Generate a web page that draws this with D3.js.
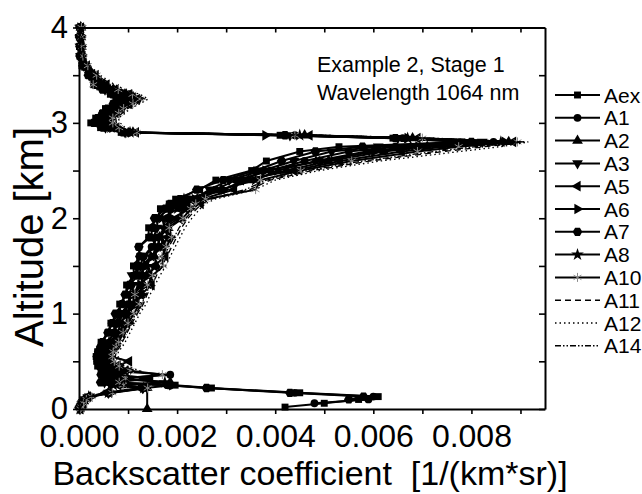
<!DOCTYPE html>
<html>
<head>
<meta charset="utf-8">
<script src="https://cdn.jsdelivr.net/npm/d3@7"></script>
<style>
  body { margin: 0; background: #fff; }
  svg { display: block; font-family: Arial, "Liberation Sans", sans-serif; }
</style>
</head>
<body>
<svg id="chart" width="642" height="494"></svg>
<script>
// altitude grid [km], shared by every profile
const altitude = [0, 0.02, 0.06, 0.1, 0.13, 0.17, 0.22, 0.25, 0.28, 0.32, 0.36, 0.4, 0.45, 0.5, 0.55, 0.6, 0.65, 0.7, 0.8, 0.9,
  1.0, 1.1, 1.2, 1.3, 1.4, 1.5, 1.6, 1.7, 1.8, 1.9, 2.0, 2.1, 2.15, 2.2, 2.3, 2.4, 2.5, 2.6, 2.7, 2.75,
  2.8, 2.84, 2.87, 2.9, 2.95, 3.0, 3.05, 3.1, 3.15, 3.2, 3.25, 3.3, 3.35, 3.4, 3.5, 3.6, 3.7, 3.8, 3.9, 4.0];

// backscatter coefficient [1/(km*sr)] per algorithm
const aex = [null, 42e-4, 50e-4, 57e-4, 61e-4, 45e-4, 27e-4, 19.6e-4, 4.6e-4, 5.0e-4, 4.8e-4, 4.5e-4, 3.8e-4, 3.6e-4, 3.5e-4, 3.8e-4, 4.6e-4, 4.5e-4, 5.9e-4, 6.5e-4,
  8.4e-4, 8.3e-4, 9.6e-4, 9.7e-4, 11.2e-4, 11.1e-4, 12.4e-4, 12.2e-4, 14.2e-4, 14.2e-4, 16.0e-4, 16.6e-4, 18.4e-4, 19.7e-4, 24.6e-4, 27.9e-4, 35.2e-4, 38.2e-4, 45.0e-4, 53.0e-4,
  78.0e-4, 64e-4, 41e-4, 8.6e-4, 4.4e-4, 2.4e-4, 3.4e-4, 4.8e-4, 5.4e-4, 7.0e-4, 7.5e-4, 6.4e-4, 4.9e-4, 3.0e-4, 1.9e-4, 0.6e-4, 0.2e-4, 0.1e-4, 0.1e-4, 0.2e-4];
const a1 = [null, null, 48e-4, 59e-4, 60e-4, 44e-4, 26e-4, 18e-4, 6.0e-4, 7.5e-4, 18.6e-4, 6.5e-4, 5.7e-4, 5.2e-4, 4.8e-4, 5.1e-4, 5.6e-4, 7.4e-4, 7.0e-4, 8.0e-4,
  8.6e-4, 10.0e-4, 10.8e-4, 13.0e-4, 12.6e-4, 13.4e-4, 13.2e-4, 14.8e-4, 16.0e-4, 18.0e-4, 18.0e-4, 18.6e-4, 20.4e-4, 22.4e-4, 27.8e-4, 32.0e-4, 39.0e-4, 46.0e-4, 55.0e-4, 64.5e-4,
  84.5e-4, 66e-4, 44e-4, 10.2e-4, 6.2e-4, 4.5e-4, 5.0e-4, 6.1e-4, 7.1e-4, 8.4e-4, 9.7e-4, 8.3e-4, 6.0e-4, 4.3e-4, 2.5e-4, 1.1e-4, 0.4e-4, 0.3e-4, 0.3e-4, 0.3e-4];
const a2 = [13.9e-4, null, null, null, null, null, 13.9e-4, 9.0e-4, 18.6e-4, 8.6e-4, 7.2e-4, 8.8e-4, 6.8e-4, 6.0e-4, 5.6e-4, 5.9e-4, 6.6e-4, 7.0e-4, 8.2e-4, 8.2e-4,
  10.3e-4, 11.2e-4, 11.0e-4, 12.9e-4, 13.8e-4, 15.8e-4, 15.4e-4, 16.2e-4, 16.4e-4, 18.2e-4, 20.8e-4, 21.0e-4, 22.0e-4, 24.1e-4, 29.0e-4, 34.6e-4, 42.3e-4, 50.9e-4, 62.2e-4, 71.0e-4,
  87.6e-4, 68e-4, 46e-4, 11.0e-4, 7.1e-4, 5.6e-4, 5.9e-4, 7.1e-4, 8.1e-4, 9.7e-4, 11.1e-4, 9.6e-4, 7.0e-4, 5.1e-4, 3.1e-4, 1.4e-4, 0.6e-4, 0.5e-4, 0.4e-4, 0.4e-4];
const a3 = [0.2e-4, 0.4e-4, 0.7e-4, 1.2e-4, 2.2e-4, 6.0e-4, 13.0e-4, 6.5e-4, 5.2e-4, 6.2e-4, 5.6e-4, 5.5e-4, 4.6e-4, 4.3e-4, 4.0e-4, 4.5e-4, 4.9e-4, 5.4e-4, 7.6e-4, 7.2e-4,
  8.6e-4, 10.6e-4, 10.2e-4, 10.9e-4, 10.8e-4, 12.5e-4, 13.1e-4, 15.6e-4, 15.2e-4, 15.9e-4, 16.0e-4, 18.4e-4, 19.4e-4, 23.4e-4, 26.6e-4, 30.6e-4, 37.4e-4, 43.8e-4, 51.5e-4, 61.0e-4,
  82.2e-4, 65e-4, 43e-4, 9.4e-4, 5.4e-4, 3.8e-4, 4.4e-4, 5.3e-4, 6.3e-4, 7.6e-4, 8.8e-4, 7.5e-4, 5.3e-4, 3.7e-4, 2.1e-4, 0.9e-4, 0.3e-4, 0.2e-4, 0.2e-4, 0.2e-4];
const a5 = [0.2e-4, 0.3e-4, 0.6e-4, 1.0e-4, 1.8e-4, 5.5e-4, 12.5e-4, 8.0e-4, 7.8e-4, 14.5e-4, 8.0e-4, 9.5e-4, 7.6e-4, 10.2e-4, 6.2e-4, 6.4e-4, 7.1e-4, 7.8e-4, 8.6e-4, 9.8e-4,
  9.6e-4, 11.8e-4, 12.6e-4, 14.8e-4, 14.4e-4, 15.3e-4, 17.6e-4, 17.0e-4, 18.1e-4, 17.4e-4, 20.3e-4, 21.8e-4, 24.8e-4, 24.9e-4, 31.6e-4, 33.0e-4, 43.8e-4, 53.2e-4, 65.8e-4, 74.3e-4,
  88.5e-4, 69e-4, 47e-4, 11.6e-4, 7.6e-4, 6.2e-4, 6.4e-4, 7.6e-4, 8.7e-4, 10.3e-4, 11.8e-4, 10.2e-4, 7.5e-4, 5.6e-4, 3.4e-4, 1.6e-4, 0.7e-4, 0.5e-4, 0.4e-4, 0.4e-4];
const a6 = [0.3e-4, 0.5e-4, 0.8e-4, 1.4e-4, 2.5e-4, 6.5e-4, 13.5e-4, 19.0e-4, 6.6e-4, 8.0e-4, 6.8e-4, 7.6e-4, 6.2e-4, 5.6e-4, 5.2e-4, 5.4e-4, 6.3e-4, 6.6e-4, 7.6e-4, 10.2e-4,
  9.9e-4, 10.6e-4, 12.8e-4, 12.5e-4, 13.3e-4, 12.6e-4, 15.0e-4, 15.8e-4, 18.6e-4, 17.8e-4, 19.0e-4, 22.6e-4, 21.5e-4, 23.6e-4, 29.5e-4, 33.6e-4, 38.0e-4, 49.5e-4, 60.2e-4, 69.2e-4,
  86.8e-4, 67e-4, 38e-4, 10.6e-4, 6.8e-4, 5.2e-4, 5.6e-4, 6.7e-4, 7.7e-4, 9.2e-4, 10.6e-4, 9.0e-4, 6.6e-4, 4.8e-4, 2.8e-4, 1.3e-4, 0.5e-4, 0.4e-4, 0.3e-4, 0.3e-4];
const a7 = [null, null, null, 55e-4, 58e-4, 43e-4, 26e-4, 18.5e-4, 4.4e-4, 5.3e-4, 4.5e-4, 5.0e-4, 4.2e-4, 3.9e-4, 3.7e-4, 4.0e-4, 4.4e-4, 4.8e-4, 5.9e-4, 6.8e-4,
  7.4e-4, 8.8e-4, 9.4e-4, 10.3e-4, 12.0e-4, 11.8e-4, 12.4e-4, 12.2e-4, 14.5e-4, 15.1e-4, 15.4e-4, 17.6e-4, 18.6e-4, 20.6e-4, 24.0e-4, 29.4e-4, 36.0e-4, 41.3e-4, 48.2e-4, 57.8e-4,
  80.0e-4, 64.5e-4, 42e-4, 9.0e-4, 4.9e-4, 3.0e-4, 3.8e-4, 4.8e-4, 5.8e-4, 7.0e-4, 8.0e-4, 6.9e-4, 4.8e-4, 3.3e-4, 1.9e-4, 0.8e-4, 0.2e-4, 0.2e-4, 0.1e-4, 0.2e-4];
const a8 = [0.2e-4, 0.4e-4, 0.7e-4, 1.2e-4, 2.0e-4, 6.0e-4, 13.2e-4, 7.0e-4, 17.5e-4, 7.2e-4, 6.3e-4, 7.0e-4, 5.9e-4, 5.4e-4, 5.0e-4, 5.5e-4, 6.1e-4, 6.5e-4, 8.8e-4, 8.5e-4,
  9.7e-4, 12.0e-4, 11.2e-4, 12.2e-4, 14.4e-4, 13.9e-4, 14.6e-4, 17.2e-4, 16.7e-4, 17.4e-4, 17.0e-4, 20.1e-4, 21.0e-4, 21.4e-4, 29.0e-4, 36.0e-4, 40.6e-4, 48.3e-4, 58.6e-4, 67.6e-4,
  86.0e-4, 67e-4, 45e-4, 10.4e-4, 6.5e-4, 4.9e-4, 5.3e-4, 6.4e-4, 7.4e-4, 8.8e-4, 10.2e-4, 8.7e-4, 6.3e-4, 4.6e-4, 2.7e-4, 1.2e-4, 0.5e-4, 0.4e-4, 0.3e-4, 0.3e-4];
const a10 = [0.3e-4, 0.5e-4, 0.9e-4, 1.5e-4, 2.6e-4, 6.8e-4, 14.0e-4, 9.0e-4, 8.2e-4, 9.5e-4, 17.0e-4, 10.5e-4, 8.2e-4, 7.2e-4, 6.8e-4, 7.0e-4, 7.6e-4, 8.1e-4, 9.0e-4, 10.0e-4,
  11.2e-4, 12.3e-4, 11.4e-4, 14.0e-4, 15.0e-4, 17.2e-4, 16.9e-4, 17.8e-4, 18.9e-4, 18.4e-4, 21.2e-4, 22.8e-4, 23.8e-4, 25.8e-4, 36.0e-4, 37.0e-4, 45.2e-4, 55.6e-4, 69.0e-4, 77.4e-4,
  89.4e-4, 70e-4, 44e-4, 11.8e-4, 8.2e-4, 6.9e-4, 6.9e-4, 8.1e-4, 9.1e-4, 11.0e-4, 12.5e-4, 10.9e-4, 8.0e-4, 2.9e-4, 3.6e-4, 1.8e-4, 0.8e-4, 0.6e-4, 0.5e-4, 0.5e-4];
const a11 = [0.2e-4, 0.3e-4, 0.6e-4, 1.1e-4, 2.0e-4, 5.8e-4, 12.8e-4, 8.5e-4, 8.8e-4, 10.5e-4, 8.6e-4, 11.5e-4, 9.2e-4, 8.0e-4, 7.4e-4, 7.6e-4, 8.3e-4, 8.8e-4, 9.8e-4, 10.8e-4,
  11.9e-4, 13.1e-4, 13.9e-4, 14.9e-4, 15.8e-4, 17.0e-4, 17.9e-4, 18.9e-4, 19.9e-4, 20.9e-4, 22.2e-4, 24.0e-4, 25.0e-4, 27.0e-4, 34.8e-4, 39.0e-4, 47.6e-4, 59.2e-4, 74.4e-4, 82.8e-4,
  90.8e-4, 71e-4, 49e-4, 12.1e-4, 8.8e-4, 7.6e-4, 7.5e-4, 8.8e-4, 9.9e-4, 11.8e-4, 13.4e-4, 11.7e-4, 8.7e-4, 6.6e-4, 3.9e-4, 2.0e-4, 0.9e-4, 0.7e-4, 0.5e-4, 0.5e-4];
const a12 = [0.3e-4, 0.4e-4, 0.7e-4, 1.3e-4, 2.3e-4, 6.2e-4, 13.4e-4, 9.5e-4, 9.2e-4, 11.0e-4, 9.0e-4, 12.4e-4, 9.8e-4, 8.4e-4, 8.0e-4, 8.0e-4, 8.8e-4, 9.4e-4, 10.4e-4, 11.4e-4,
  12.4e-4, 13.7e-4, 14.5e-4, 15.5e-4, 16.5e-4, 17.7e-4, 18.6e-4, 19.6e-4, 20.6e-4, 21.6e-4, 23.0e-4, 24.7e-4, 25.7e-4, 27.7e-4, 35.9e-4, 40.0e-4, 49.0e-4, 61.4e-4, 77.7e-4, 85.9e-4,
  91.6e-4, 72e-4, 50e-4, 12.4e-4, 9.4e-4, 8.4e-4, 8.0e-4, 9.4e-4, 10.4e-4, 12.4e-4, 14.1e-4, 12.4e-4, 9.4e-4, 7.3e-4, 4.3e-4, 2.2e-4, 1.0e-4, 0.8e-4, 0.6e-4, 0.6e-4];
const a14 = [0.2e-4, 0.4e-4, 0.8e-4, 1.2e-4, 2.1e-4, 6.0e-4, 13.0e-4, 8.0e-4, 7.5e-4, 13.0e-4, 8.2e-4, 10.0e-4, 8.6e-4, 9.8e-4, 7.2e-4, 7.3e-4, 8.0e-4, 8.6e-4, 9.5e-4, 10.5e-4,
  11.6e-4, 12.8e-4, 13.6e-4, 14.5e-4, 15.4e-4, 16.5e-4, 17.4e-4, 18.3e-4, 19.4e-4, 20.4e-4, 21.8e-4, 23.4e-4, 24.4e-4, 26.4e-4, 33.9e-4, 38.2e-4, 46.6e-4, 57.8e-4, 72.6e-4, 80.8e-4,
  90.2e-4, 70.5e-4, 48.5e-4, 12.0e-4, 8.5e-4, 7.2e-4, 7.2e-4, 8.4e-4, 9.5e-4, 11.3e-4, 13.0e-4, 11.2e-4, 8.3e-4, 6.3e-4, 3.8e-4, 1.9e-4, 0.9e-4, 0.7e-4, 0.5e-4, 0.5e-4];

const seriesNames = ["Aex", "A1", "A2", "A3", "A5", "A6", "A7", "A8", "A10", "A11", "A12", "A14"];
const seriesValues = [aex, a1, a2, a3, a5, a6, a7, a8, a10, a11, a12, a14];

const xTickValues = [0, 0.001, 0.002, 0.003, 0.004, 0.005, 0.006, 0.007, 0.008, 0.009];
const xTickLabels = ["0.000", "", "0.002", "", "0.004", "", "0.006", "", "0.008", ""];
const yTickValues = [0, 0.5, 1, 1.5, 2, 2.5, 3, 3.5, 4];
const yTickLabels = ["0", "", "1", "", "2", "", "3", "", "4"];

const annotation = ["Example 2, Stage 1", "Wavelength 1064 nm"];

// --- drawing ---
const marginLeft = 79, marginRight = 97, marginTop = 27.5, marginBottom = 85;
const width = 642, height = 494;

const svg = d3.select("#chart");

const x = d3.scaleLinear().domain([0, 0.0095]).range([marginLeft, width - marginRight]);
const y = d3.scaleLinear().domain([0, 4]).range([height - marginBottom, marginTop]);

// marker shapes, one per series (Origin style)
function hexagon(r) {
  const p = d3.path();
  for (let i = 0; i < 6; i++) {
    const a = Math.PI / 3 * i;
    if (i === 0) p.moveTo(r * Math.cos(a), r * Math.sin(a));
    else p.lineTo(r * Math.cos(a), r * Math.sin(a));
  }
  p.closePath();
  return p.toString();
}
const asterisk = "M0,-4.5V4.5M-3.9,-2.25L3.9,2.25M-3.9,2.25L3.9,-2.25";

const markers = {
  Aex: { d: d3.symbol(d3.symbolSquare, 48)(), rot: 0 },
  A1: { d: d3.symbol(d3.symbolCircle, 48)(), rot: 0 },
  A2: { d: d3.symbol(d3.symbolTriangle, 50)(), rot: 0 },
  A3: { d: d3.symbol(d3.symbolTriangle, 50)(), rot: 180 },
  A5: { d: d3.symbol(d3.symbolTriangle, 50)(), rot: -90 },
  A6: { d: d3.symbol(d3.symbolTriangle, 50)(), rot: 90 },
  A7: { d: hexagon(4.8), rot: 0 },
  A8: { d: d3.symbol(d3.symbolStar, 50)(), rot: 0 },
  A10: { d: asterisk, rot: 0, stroke: "#8a8a8a" }
};
const dashes = { A11: "6,4", A12: "1.5,3", A14: "6,2,1.5,2,1.5,2" };

const line = d3.line().x(d => x(d[0])).y(d => y(d[1]));

const plot = svg.append("g");
seriesNames.forEach((name, i) => {
  const pts = altitude.map((a, j) => [seriesValues[i][j], a]).filter(d => d[0] != null);
  plot.append("path")
    .datum(pts)
    .attr("fill", "none")
    .attr("stroke", "#000")
    .attr("stroke-width", dashes[name] ? 1.3 : 2)
    .attr("stroke-dasharray", dashes[name] || null)
    .attr("d", line);
  const m = markers[name];
  if (m) {
    plot.selectAll(null)
      .data(pts)
      .join("path")
      .attr("d", m.d)
      .attr("transform", d => `translate(${x(d[0])},${y(d[1])}) rotate(${m.rot})`)
      .attr("fill", m.stroke ? "none" : "#000")
      .attr("stroke", m.stroke || "none")
      .attr("stroke-width", 1);
  }
});

// axes
const bottomAxis = d3.axisBottom(x).tickValues(xTickValues)
  .tickFormat((d, i) => xTickLabels[i]).tickSizeInner(5).tickSizeOuter(0).tickPadding(10);
const topAxis = d3.axisBottom(x).tickValues(xTickValues)
  .tickFormat("").tickSizeInner(5).tickSizeOuter(0);
const leftAxis = d3.axisLeft(y).tickValues(yTickValues)
  .tickFormat((d, i) => yTickLabels[i]).tickSizeInner(6).tickSizeOuter(0).tickPadding(5);
const rightAxis = d3.axisLeft(y).tickValues(yTickValues)
  .tickFormat("").tickSizeInner(6).tickSizeOuter(0);

function styleAxis(g, size) {
  g.select(".domain").attr("stroke", "#000").attr("stroke-width", 2);
  g.selectAll(".tick line").attr("stroke", "#000").attr("stroke-width", 1.6);
  g.selectAll(".tick text").attr("fill", "#000")
    .style("font-size", size + "px").style("font-family", "Arial, 'Liberation Sans', sans-serif");
}

svg.append("g").attr("transform", `translate(0,${height - marginBottom})`).call(bottomAxis).call(styleAxis, 32);
svg.append("g").attr("transform", `translate(0,${marginTop})`).call(topAxis).call(styleAxis, 32);
svg.append("g").attr("transform", `translate(${marginLeft},0)`).call(leftAxis).call(styleAxis, 31);
svg.append("g").attr("transform", `translate(${width - marginRight},0)`).call(rightAxis).call(styleAxis, 31);

// axis titles
svg.append("text")
  .attr("x", 310).attr("y", 485)
  .attr("text-anchor", "middle")
  .attr("xml:space", "preserve")
  .style("white-space", "pre")
  .style("font-size", "34px")
  .text("Backscatter coefficient  [1/(km*sr)]");

svg.append("text")
  .attr("transform", "translate(43,237) rotate(-90)")
  .attr("text-anchor", "middle")
  .style("font-size", "40px")
  .text("Altitude [km]");

// annotation
svg.selectAll(".note")
  .data(annotation)
  .join("text")
  .attr("class", "note")
  .attr("x", 317)
  .attr("y", (d, i) => 72 + i * 28)
  .style("font-size", "21.5px")
  .text(d => d);

// legend
const legend = svg.append("g").attr("transform", "translate(555,95)");
const rowH = 22.8;
seriesNames.forEach((name, i) => {
  const g = legend.append("g").attr("transform", `translate(0,${i * rowH})`);
  g.append("line")
    .attr("x1", 0).attr("x2", 45).attr("y1", 0).attr("y2", 0)
    .attr("stroke", "#000")
    .attr("stroke-width", dashes[name] ? 1.6 : 2)
    .attr("stroke-dasharray", dashes[name] || null);
  const m = markers[name];
  if (m) {
    g.append("path")
      .attr("d", m.d)
      .attr("transform", `translate(22.5,0) rotate(${m.rot})`)
      .attr("fill", m.stroke ? "none" : "#000")
      .attr("stroke", m.stroke || "none")
      .attr("stroke-width", 1);
  }
  g.append("text")
    .attr("x", 49).attr("y", 7.5)
    .style("font-size", "21px")
    .text(name);
});
</script>
</body>
</html>
